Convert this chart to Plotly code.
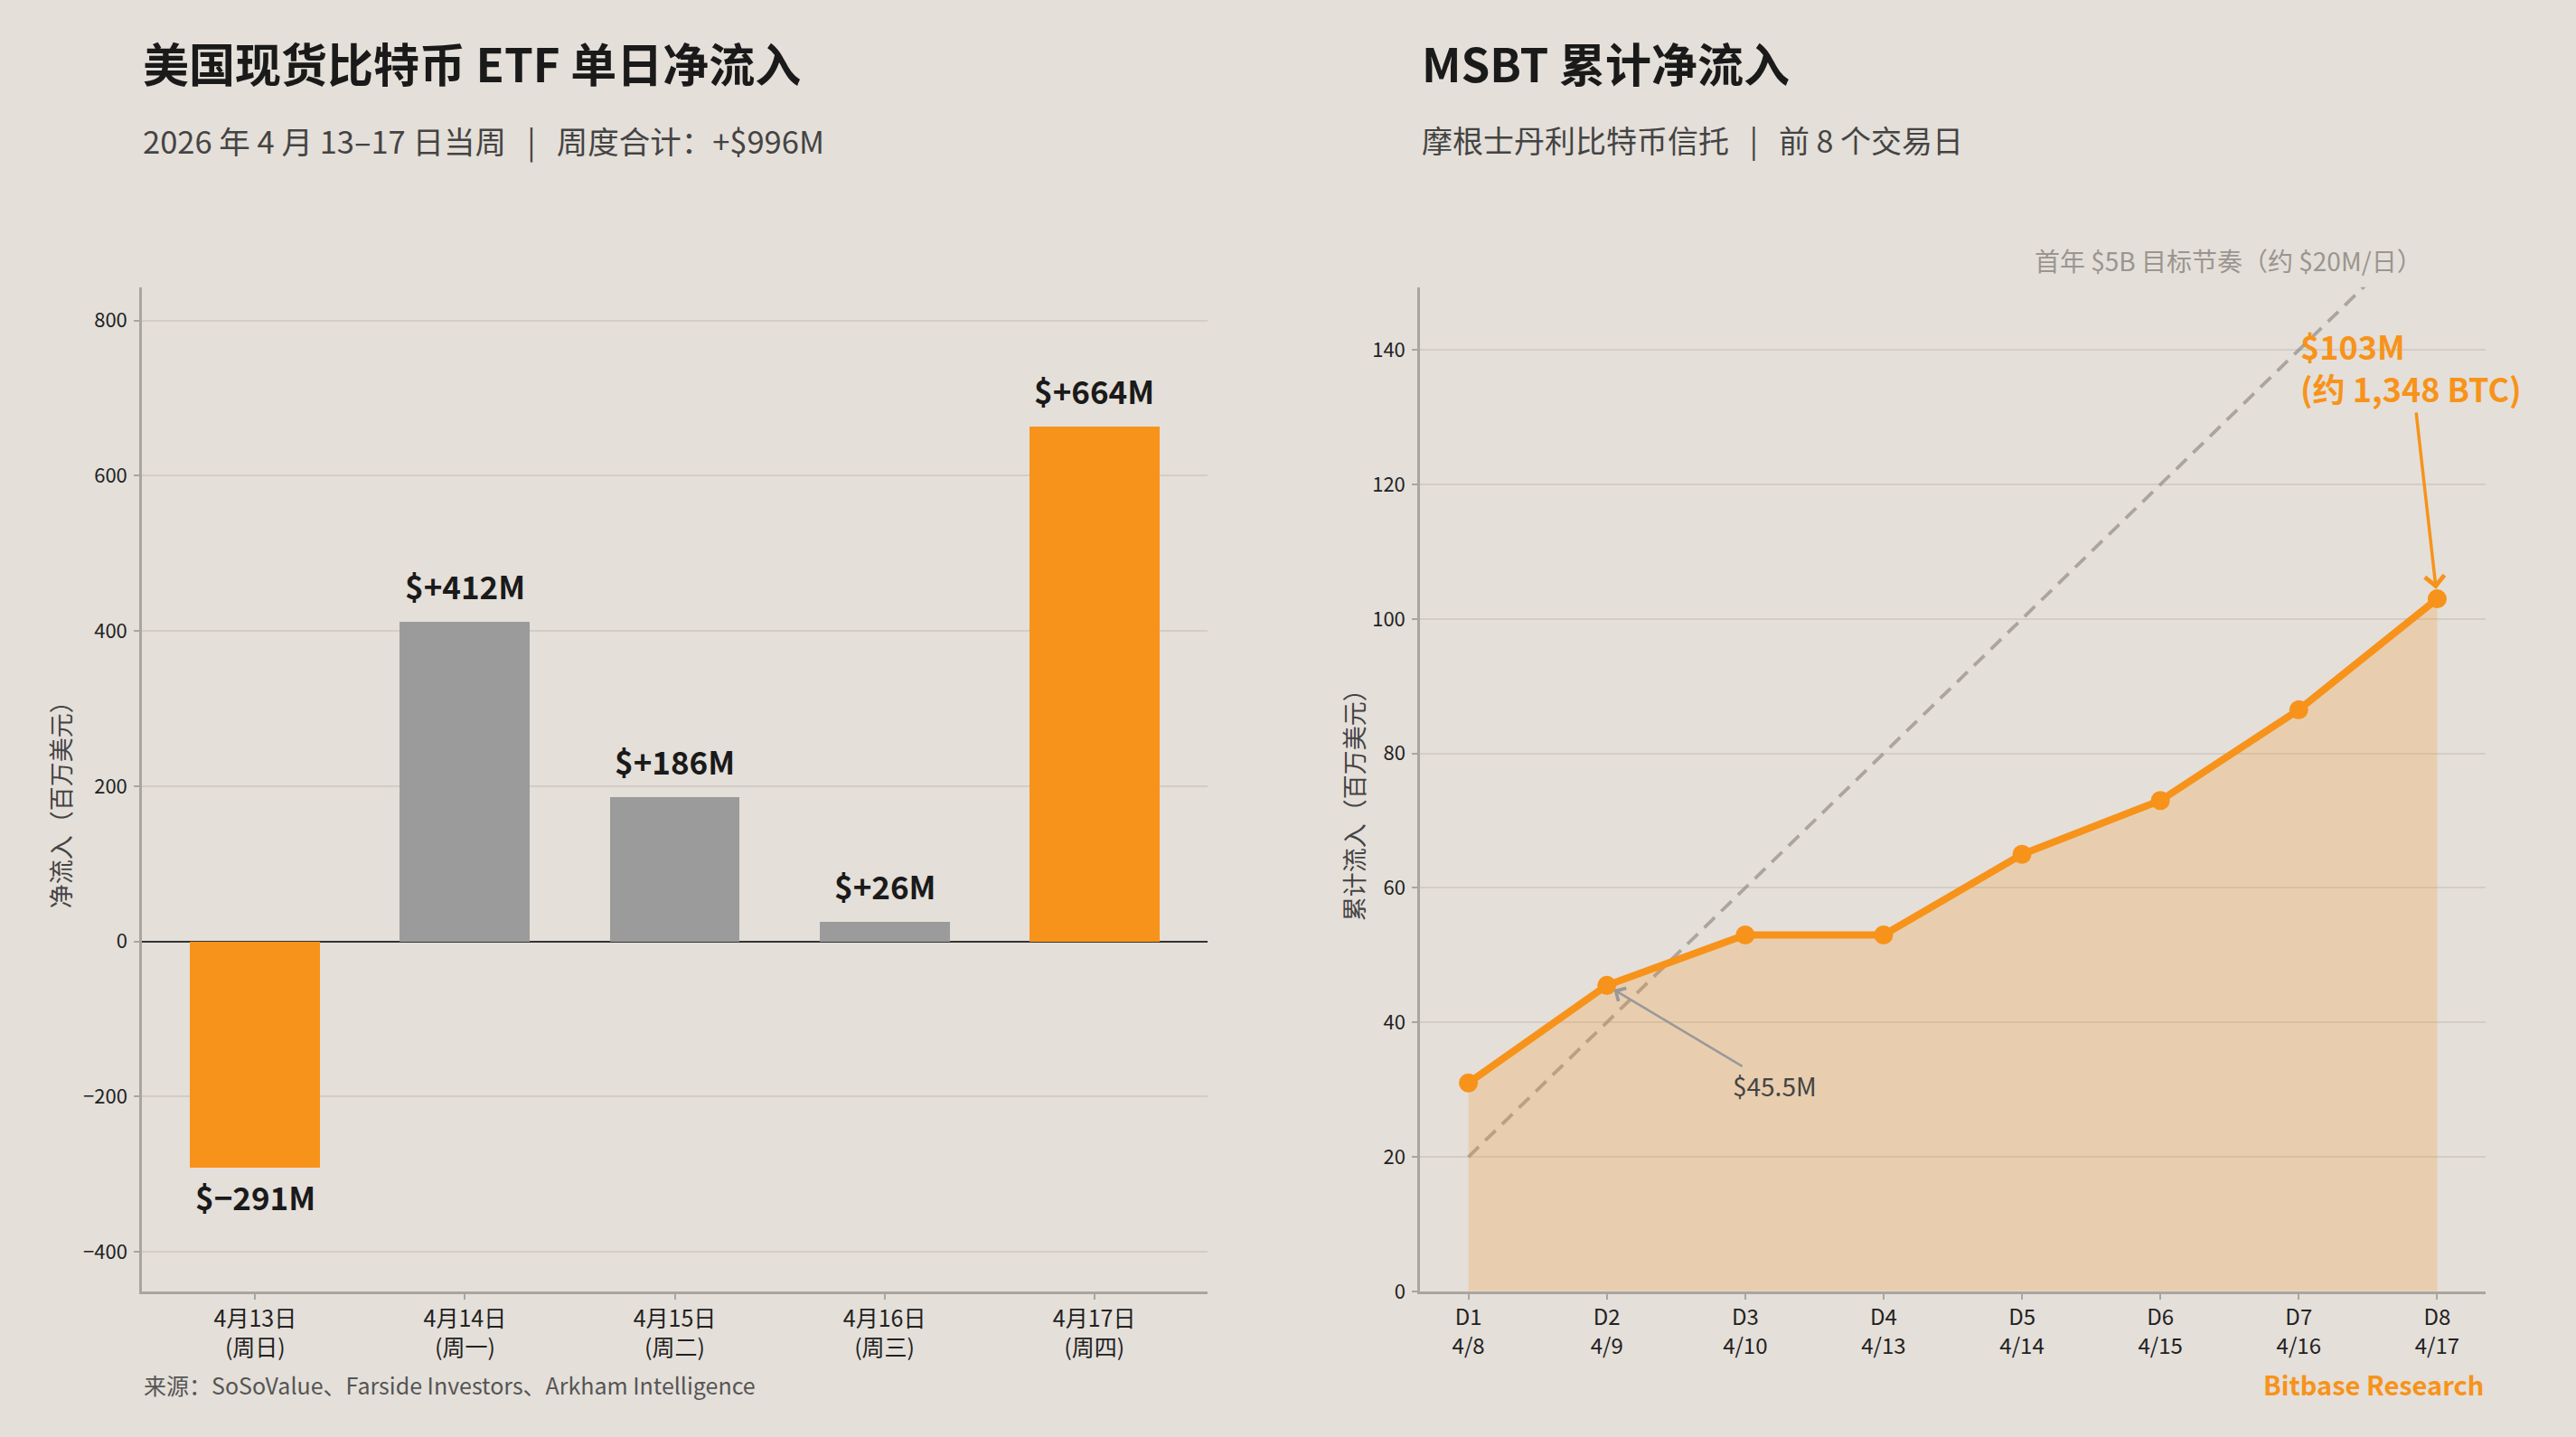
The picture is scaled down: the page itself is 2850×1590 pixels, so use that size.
import plotly.graph_objects as go

# ---------------- data ----------------
bar_dates = ["4月13日", "4月14日", "4月15日", "4月16日", "4月17日"]
bar_weekdays = ["周日", "周一", "周二", "周三", "周四"]
daily_flows = [-291, 412, 186, 26, 664]
bar_highlight = [True, False, False, False, True]
bar_yticks = [-400, -200, 0, 200, 400, 600, 800]

line_days = ["D1", "D2", "D3", "D4", "D5", "D6", "D7", "D8"]
line_dates = ["4/8", "4/9", "4/10", "4/13", "4/14", "4/15", "4/16", "4/17"]
msbt_cumulative = [31, 45.5, 53, 53, 65, 73, 86.5, 103]
target_pace = [20, 40, 60, 80, 100, 120, 140, 160]
line_yticks = [0, 20, 40, 60, 80, 100, 120, 140]

# ---------------- style ----------------
W, H = 2850, 1590
HV = H * 0.992  # vertical calibration
BG = "#E4DFD9"
ORANGE = "#F7931A"
GRAYBAR = "#9B9B9B"
GRID = "#D3CDC6"
SPINE = "#A9A59F"
FONT = "Noto Sans CJK SC"
SP = "\u00a0\u00a0\u00a0"


def px(x):
    return x / W


def py(y):
    return 1 - y / HV


fig = go.Figure()

# left: bar chart
fig.add_trace(go.Bar(
    x=bar_dates, y=daily_flows, width=0.62,
    marker=dict(color=[ORANGE if h else GRAYBAR for h in bar_highlight], line=dict(width=0)),
    xaxis="x", yaxis="y", showlegend=False, hoverinfo="skip",
))

# right: target pace dashed line
fig.add_trace(go.Scatter(
    x=line_days, y=target_pace, mode="lines",
    line=dict(color="rgba(140,134,126,0.65)", width=3.8, dash="16px,10px"),
    xaxis="x2", yaxis="y2", showlegend=False, hoverinfo="skip",
))
# right: cumulative line with fill
fig.add_trace(go.Scatter(
    x=line_days, y=msbt_cumulative, mode="lines+markers",
    line=dict(color=ORANGE, width=8),
    marker=dict(color=ORANGE, size=21),
    fill="tozeroy", fillcolor="rgba(247,147,26,0.22)",
    xaxis="x2", yaxis="y2", showlegend=False, hoverinfo="skip",
))

ann = []
# titles
ann.append(dict(text="<b>美国现货比特币 ETF 单日净流入</b>", x=px(156), y=py(69),
                font=dict(size=51, color="#1A1A1A")))
ann.append(dict(text="2026 年 4 月 13–17 日当周" + SP + "|" + SP + "周度合计：+$996M", x=px(156), y=py(155),
                font=dict(size=34.5, color="#444444")))
ann.append(dict(text="<b>MSBT 累计净流入</b>", x=px(1571), y=py(69),
                font=dict(size=51, color="#1A1A1A")))
ann.append(dict(text="摩根士丹利比特币信托" + SP + "|" + SP + "前 8 个交易日", x=px(1571), y=py(155),
                font=dict(size=34, color="#444444")))
for a in ann:
    a.update(xref="paper", yref="paper", xanchor="left", yanchor="middle", showarrow=False)

# footer
ann.append(dict(text="来源：SoSoValue、Farside Investors、Arkham Intelligence",
                xref="paper", yref="paper", x=px(157), y=py(1533), xanchor="left", yanchor="middle",
                showarrow=False, font=dict(size=25, color="#555555")))
ann.append(dict(text="<b>Bitbase Research</b>",
                xref="paper", yref="paper", x=px(2750), y=py(1532), xanchor="right", yanchor="middle",
                showarrow=False, font=dict(size=29, color=ORANGE)))

# y-axis titles
ann.append(dict(text="净流入（百万美元）", xref="paper", yref="paper", x=px(66), y=py(885),
                xanchor="center", yanchor="middle", textangle=-90, showarrow=False,
                font=dict(size=27, color="#444444")))
ann.append(dict(text="累计流入（百万美元）", xref="paper", yref="paper", x=px(1497), y=py(885),
                xanchor="center", yanchor="middle", textangle=-90, showarrow=False,
                font=dict(size=27, color="#444444")))

# bar value labels
for d, v in zip(bar_dates, daily_flows):
    lab = ("$+%dM" % v) if v >= 0 else ("$\u2212%dM" % abs(v))
    ann.append(dict(text="<b>%s</b>" % lab, x=d, y=v, xref="x", yref="y",
                    xanchor="center", yanchor="middle", yshift=(40 if v >= 0 else -32),
                    showarrow=False, font=dict(size=35, color="#1A1A1A")))

# target pace label
ann.append(dict(text="首年 $5B 目标节奏（约 $20M/日）", xref="paper", yref="paper",
                x=px(2465), y=py(288), xanchor="center", yanchor="middle", showarrow=False,
                font=dict(size=28, color="#9A958F")))

# D2 annotation
ann.append(dict(text="$45.5M", x=line_days[1], y=msbt_cumulative[1], xref="x2", yref="y2",
                ax=186, ay=111, axref="pixel", ayref="pixel",
                showarrow=True, arrowhead=4, arrowsize=1.3, arrowwidth=2.5, arrowcolor="#999999",
                standoff=9, font=dict(size=28, color="#444444")))
# D8 annotation
ann.append(dict(text="<b>$%dM<br>(约 1,348 BTC)</b>" % msbt_cumulative[-1],
                x=line_days[-1], y=msbt_cumulative[-1], xref="x2", yref="y2",
                ax=-29, ay=-257, axref="pixel", ayref="pixel", align="left",
                showarrow=True, arrowhead=4, arrowsize=1.2, arrowwidth=3.5, arrowcolor=ORANGE,
                standoff=11, font=dict(size=36, color=ORANGE)))

line_common = dict(
    showline=True, linecolor=SPINE, linewidth=2.5,
    ticks="outside", ticklen=6, tickwidth=1.5, tickcolor=SPINE,
    fixedrange=True,
)

fig.update_layout(
    width=W, height=H, autosize=False,
    margin=dict(l=0, r=0, t=0, b=0),
    paper_bgcolor=BG, plot_bgcolor=BG,
    font=dict(family=FONT, color="#222222"),
    annotations=ann,
    bargap=0,
    xaxis=dict(domain=[px(157), px(1336)], anchor="y", type="category",
               range=[-0.54, 4.54],
               tickvals=bar_dates,
               ticktext=["%s<br>(%s)" % (d, w) for d, w in zip(bar_dates, bar_weekdays)],
               showgrid=False, zeroline=False, tickfont=dict(size=25, color="#222222"),
               **line_common),
    yaxis=dict(domain=[py(1430), py(318)], anchor="x", range=[-451, 843],
               tickvals=bar_yticks, showgrid=True, gridcolor=GRID, gridwidth=1.5,
               zeroline=True, zerolinecolor="#333333", zerolinewidth=2,
               tickfont=dict(size=22, color="#222222"), ticklabelstandoff=3,
               **line_common),
    xaxis2=dict(domain=[px(1571), px(2750)], anchor="y2", type="category",
                range=[-0.35, 7.35],
                tickvals=line_days,
                ticktext=["%s<br>%s" % (d, t) for d, t in zip(line_days, line_dates)],
                showgrid=False, zeroline=False, tickfont=dict(size=24, color="#222222"),
                **line_common),
    yaxis2=dict(domain=[py(1430), py(318)], anchor="x2", range=[0, 149.35],
                tickvals=line_yticks, showgrid=True, gridcolor=GRID, gridwidth=1.5,
                zeroline=False, tickfont=dict(size=22, color="#222222"), ticklabelstandoff=3,
                **line_common),
)

fig.write_html("out.html")
